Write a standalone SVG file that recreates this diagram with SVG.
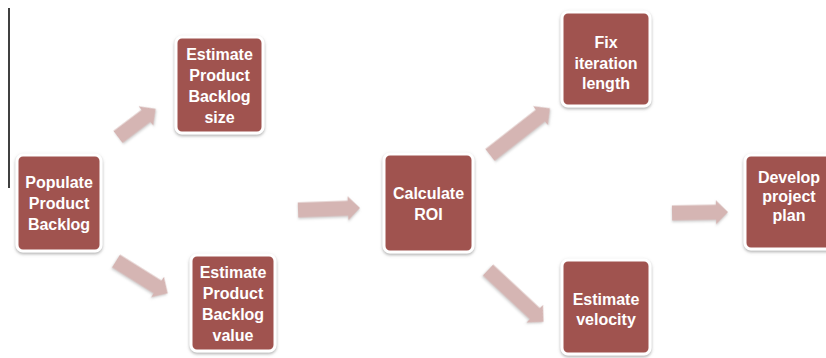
<svg xmlns="http://www.w3.org/2000/svg" width="826" height="358" viewBox="0 0 826 358">
<defs>
<filter id="sh" x="-20%" y="-20%" width="140%" height="140%">
<feDropShadow dx="0" dy="1.5" stdDeviation="1.5" flood-color="#777" flood-opacity="0.6"/>
</filter>
<filter id="ash" x="-20%" y="-40%" width="140%" height="180%">
<feDropShadow dx="0" dy="1.5" stdDeviation="1" flood-color="#999" flood-opacity="0.5"/>
</filter>
</defs>
<style>
.box{fill:#a0534f;stroke:#ffffff;stroke-width:3;filter:url(#sh)}
.lbl{font-family:"Liberation Sans",Arial,sans-serif;font-weight:bold;font-size:16px;fill:#ffffff;text-anchor:middle}
.arr{fill:#d5b5b3;filter:url(#ash)}
</style>
<rect width="826" height="358" fill="#ffffff"/>
<line x1="9" y1="8" x2="9" y2="188" stroke="#000" stroke-width="1.5"/>
<g id="connectors">
<path class="arr" transform="translate(118,137) rotate(-37)" d="M0,-7.5 H35 V-12 L47,0 L35,12 V7.5 H0 Z"/>
<path class="arr" transform="translate(116,261) rotate(32)" d="M0,-7.5 H49 V-12 L61,0 L49,12 V7.5 H0 Z"/>
<path class="arr" transform="translate(298,210) rotate(-2)" d="M0,-7.5 H50 V-12 L62,0 L50,12 V7.5 H0 Z"/>
<path class="arr" transform="translate(490,155) rotate(-38)" d="M0,-7.5 H64 V-12 L76,0 L64,12 V7.5 H0 Z"/>
<path class="arr" transform="translate(488,270) rotate(43)" d="M0,-7.5 H64 V-12 L76,0 L64,12 V7.5 H0 Z"/>
<path class="arr" transform="translate(672,213) rotate(-1)" d="M0,-7.5 H44 V-12 L56,0 L44,12 V7.5 H0 Z"/>
</g>
<g id="populate">
<rect class="box" x="17" y="155" width="84" height="96" rx="6"/>
<text class="lbl" x="59" y="188">Populate</text>
<text class="lbl" x="59" y="209">Product</text>
<text class="lbl" x="59" y="230">Backlog</text>
</g>
<g id="est-size">
<rect class="box" x="176" y="37" width="87" height="96" rx="6"/>
<text class="lbl" x="219.5" y="60">Estimate</text>
<text class="lbl" x="219.5" y="81">Product</text>
<text class="lbl" x="219.5" y="102">Backlog</text>
<text class="lbl" x="219.5" y="123">size</text>
</g>
<g id="est-value">
<rect class="box" x="191" y="255" width="84" height="96" rx="6"/>
<text class="lbl" x="233" y="278">Estimate</text>
<text class="lbl" x="233" y="299">Product</text>
<text class="lbl" x="233" y="320">Backlog</text>
<text class="lbl" x="233" y="341">value</text>
</g>
<g id="roi">
<rect class="box" x="384" y="154" width="89" height="98" rx="6"/>
<text class="lbl" x="428.5" y="199">Calculate</text>
<text class="lbl" x="428.5" y="220">ROI</text>
</g>
<g id="fix">
<rect class="box" x="562" y="12" width="88" height="94" rx="6"/>
<text class="lbl" x="606" y="48">Fix</text>
<text class="lbl" x="606" y="69">iteration</text>
<text class="lbl" x="606" y="89">length</text>
</g>
<g id="velocity">
<rect class="box" x="562" y="260" width="88" height="94" rx="6"/>
<text class="lbl" x="606" y="305">Estimate</text>
<text class="lbl" x="606" y="325">velocity</text>
</g>
<g id="develop">
<rect class="box" x="745" y="155" width="88" height="94" rx="6"/>
<text class="lbl" x="789" y="183">Develop</text>
<text class="lbl" x="789" y="202">project</text>
<text class="lbl" x="789" y="221">plan</text>
</g>
</svg>
